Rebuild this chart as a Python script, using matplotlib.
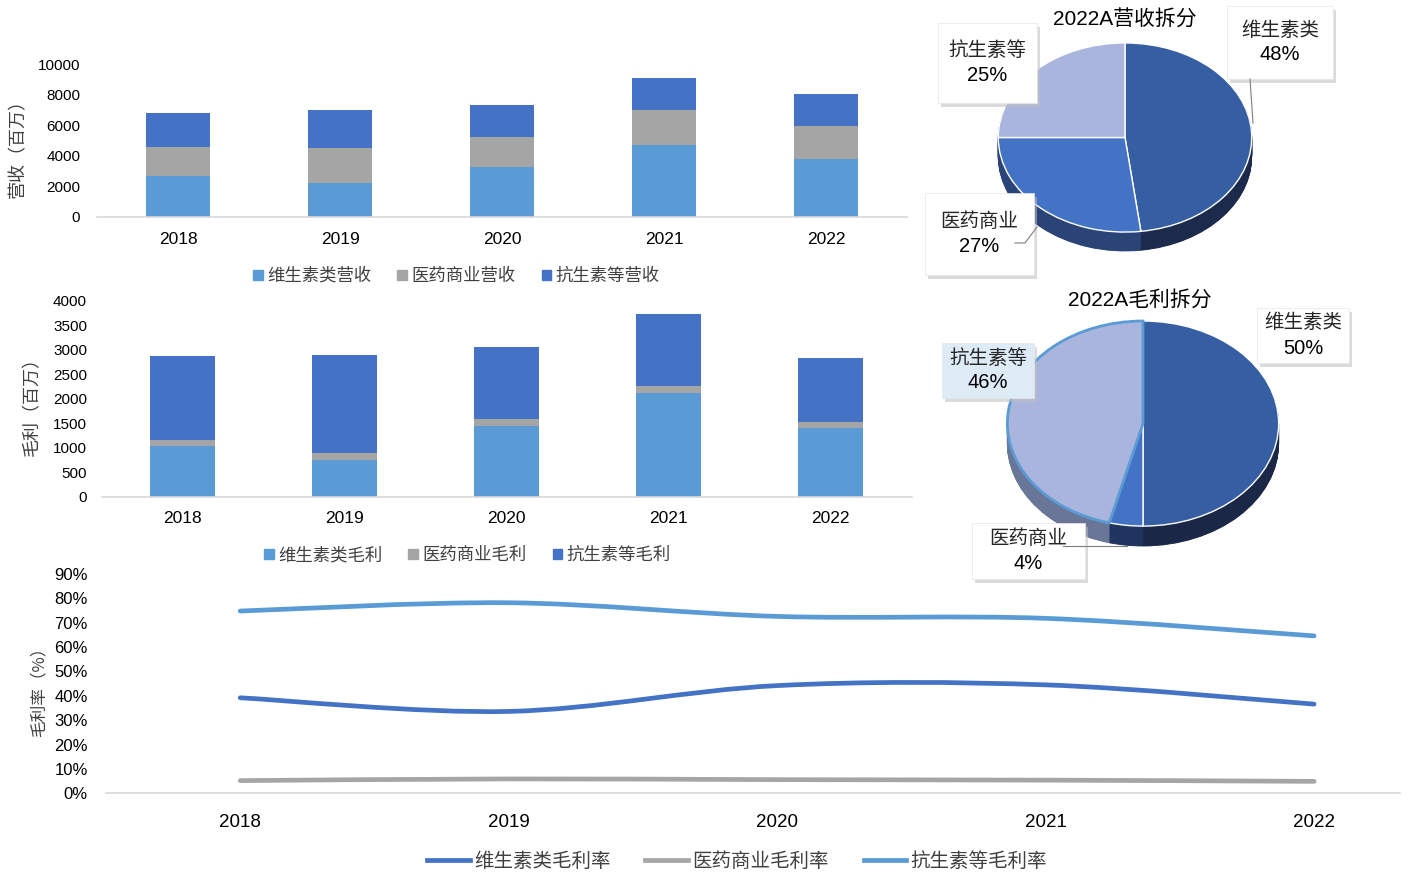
import numpy as np
import matplotlib
matplotlib.use('Agg')
import matplotlib.pyplot as plt
from matplotlib import font_manager
from matplotlib.patches import Patch, Rectangle, PathPatch
from matplotlib.lines import Line2D
from matplotlib.path import Path

plt.rcParams['font.family'] = ['Liberation Sans', 'Noto Sans CJK SC', 'DejaVu Sans']

installed = {f.name for f in font_manager.fontManager.ttflist}
NARROW = 'Liberation Sans Narrow' if 'Liberation Sans Narrow' in installed else 'Liberation Sans'
CJK = ['Noto Sans CJK SC', 'DejaVu Sans']

years = ['2018', '2019', '2020', '2021', '2022']

# 营收（百万）
rev_vitamin = [2646, 2227, 3235, 4695, 3798]
rev_pharma = [1900, 2252, 1984, 2293, 2161]
rev_anti = [2266, 2509, 2076, 2075, 2057]

# 毛利（百万）
gp_vitamin = [1035, 755, 1449, 2122, 1402]
gp_pharma = [128, 143, 131, 131, 116]
gp_anti = [1708, 1988, 1469, 1476, 1306]

# 毛利率（%）
gm_vitamin = [39.2, 33.6, 44.2, 44.5, 36.6]
gm_pharma = [5.2, 5.9, 5.6, 5.4, 4.9]
gm_anti = [74.8, 78.2, 72.6, 71.8, 64.6]

# 2022A 拆分（%）
pie_names = ['维生素类', '医药商业', '抗生素等']
pie_rev_share = [48, 27, 25]
pie_gp_share = [50, 4, 46]

C_LIGHT = '#5B9BD5'
C_GRAY = '#A5A5A5'
C_BLUE = '#4472C4'
AXIS_GRAY = '#D9D9D9'

W, H = 1408, 877
fig = plt.figure(figsize=(W / 100, H / 100), dpi=100)


def px_axes(left, top, right, bottom):
    # axes placed by pixel box (origin top-left)
    return fig.add_axes([left / W, 1 - bottom / H, (right - left) / W, (bottom - top) / H])


def style_axes(ax):
    for s in ['top', 'right', 'left']:
        ax.spines[s].set_visible(False)
    ax.spines['bottom'].set_color(AXIS_GRAY)
    ax.spines['bottom'].set_linewidth(1.2)
    ax.tick_params(length=0)


def stacked_bars(ax, series, colors):
    x = np.arange(len(years))
    bottom = np.zeros(len(years))
    for vals, c in zip(series, colors):
        ax.bar(x, vals, 0.4, bottom=bottom, color=c, linewidth=0)
        bottom += np.array(vals)
    ax.set_xlim(-0.5, 4.5)
    ax.set_xticks(x)
    ax.set_xticklabels(years)


# ---- 营收柱状图 ----
ax1 = px_axes(97, 64, 907, 216.7)
stacked_bars(ax1, [rev_vitamin, rev_pharma, rev_anti], [C_LIGHT, C_GRAY, C_BLUE])
ax1.set_ylim(0, 10000)
ax1.set_yticks(range(0, 10001, 2000))
style_axes(ax1)
ax1.tick_params(axis='y', labelsize=11, pad=12)
ax1.tick_params(axis='x', labelsize=12.5, pad=11)

fig.legend(handles=[Patch(color=C_LIGHT, label='维生素类营收'),
                    Patch(color=C_GRAY, label='医药商业营收'),
                    Patch(color=C_BLUE, label='抗生素等营收')],
           loc='center', bbox_to_anchor=(456.5 / W, 1 - 276 / H), ncol=3, frameon=False,
           prop={'family': CJK, 'size': 12.5}, handlelength=0.55, handleheight=0.55,
           handletextpad=0.25, columnspacing=1.5, labelcolor='#404040')

# ---- 毛利柱状图 ----
ax2 = px_axes(101.7, 300.7, 911.7, 496.7)
stacked_bars(ax2, [gp_vitamin, gp_pharma, gp_anti], [C_LIGHT, C_GRAY, C_BLUE])
ax2.set_ylim(0, 4000)
ax2.set_yticks(range(0, 4001, 500))
style_axes(ax2)
ax2.tick_params(axis='y', labelsize=11, pad=10.5)
ax2.tick_params(axis='x', labelsize=12.5, pad=10)

fig.legend(handles=[Patch(color=C_LIGHT, label='维生素类毛利'),
                    Patch(color=C_GRAY, label='医药商业毛利'),
                    Patch(color=C_BLUE, label='抗生素等毛利')],
           loc='center', bbox_to_anchor=(467.5 / W, 1 - 555 / H), ncol=3, frameon=False,
           prop={'family': CJK, 'size': 12.5}, handlelength=0.55, handleheight=0.55,
           handletextpad=0.25, columnspacing=1.5, labelcolor='#404040')


# ---- 毛利率折线图 ----
def smooth_path(xs, ys):
    # cubic bezier through every point, tangents from neighbouring points
    pts = list(zip(xs, ys))
    verts = [pts[0]]
    codes = [Path.MOVETO]
    n = len(pts)
    for i in range(n - 1):
        p0 = pts[max(i - 1, 0)]
        p1 = pts[i]
        p2 = pts[i + 1]
        p3 = pts[min(i + 2, n - 1)]
        c1 = (p1[0] + (p2[0] - p0[0]) / 6, p1[1] + (p2[1] - p0[1]) / 6)
        c2 = (p2[0] - (p3[0] - p1[0]) / 6, p2[1] - (p3[1] - p1[1]) / 6)
        verts += [c1, c2, p2]
        codes += [Path.CURVE4] * 3
    return Path(verts, codes)


ax3 = px_axes(106, 574, 1400, 793.3)
xs = np.arange(len(years))
for vals, c in [(gm_vitamin, C_BLUE), (gm_pharma, C_GRAY), (gm_anti, C_LIGHT)]:
    ax3.add_patch(PathPatch(smooth_path(xs, np.array(vals) / 100), fill=False,
                            edgecolor=c, linewidth=3.4, capstyle='round'))
ax3.set_xlim(-0.5, 4.32)
ax3.set_ylim(0, 0.9)
ax3.set_xticks(xs)
ax3.set_xticklabels(years, family=NARROW, fontsize=13.5)
ax3.set_yticks(np.arange(0, 0.91, 0.1))
ax3.set_yticklabels([f'{int(round(v * 100))}%' for v in np.arange(0, 0.91, 0.1)],
                    family=NARROW, fontsize=12)
style_axes(ax3)
ax3.tick_params(axis='y', pad=13)
ax3.tick_params(axis='x', pad=15)

fig.legend(handles=[Line2D([], [], color=C_BLUE, lw=3.4, label='维生素类毛利率'),
                    Line2D([], [], color=C_GRAY, lw=3.4, label='医药商业毛利率'),
                    Line2D([], [], color=C_LIGHT, lw=3.4, label='抗生素等毛利率')],
           loc='center', bbox_to_anchor=(737 / W, 1 - 861 / H), ncol=3, frameon=False,
           prop={'family': CJK, 'size': 14}, handlelength=2.2, handletextpad=0.2,
           columnspacing=1.8, labelcolor='#404040')


# ---- 2022A 饼图（立体） ----
def pie3d(ax, shares, top_colors, side_colors, depth, n_layers=30):
    for k in range(n_layers, 0, -1):
        ax.pie(shares, colors=side_colors, startangle=90, counterclock=False,
               center=(0, -depth * k / n_layers), wedgeprops=dict(linewidth=0.6))
        for w in ax.patches[-len(shares):]:
            w.set_edgecolor(w.get_facecolor())
    wedges, _ = ax.pie(shares, colors=top_colors, startangle=90, counterclock=False,
                       wedgeprops=dict(edgecolor='white', linewidth=1))
    ax.set_aspect('auto')
    ax.set_xlim(-1.01, 1.01)
    ax.set_ylim(-1 - depth, 1.01)
    return wedges


top_cols = ['#365FA3', C_BLUE, '#A9B5DD']

axp1 = px_axes(997, 42, 1253, 251)
pie3d(axp1, pie_rev_share, top_cols, ['#1C2A4C', '#2A4478', '#6F7FA3'], 19 / 95)

axp2 = px_axes(1006, 320, 1280, 546)
w2 = pie3d(axp2, pie_gp_share, top_cols, ['#1B2747', '#1F3560', '#6A7697'], 20 / 103)
w2[2].set_edgecolor(C_LIGHT)
w2[2].set_linewidth(2)

# ---- 标注层 ----
ov = fig.add_axes([0, 0, 1, 1])
ov.set_xlim(0, W)
ov.set_ylim(H, 0)
ov.axis('off')

# y-axis titles
for tx, ty, label, fs in [(18, 144, '营收（百万）', 13),
                          (32, 402, '毛利（百万）', 13),
                          (39, 688, '毛利率（%）', 12)]:
    ov.text(tx, ty, label, rotation=90, ha='center', va='center', fontsize=fs,
            family=CJK, color='#404040')

title_font = ['Liberation Sans', 'Noto Sans CJK SC']
ov.text(1124.5, 20, '2022A营收拆分', ha='center', va='center', fontsize=15, family=title_font)
ov.text(1139.5, 300, '2022A毛利拆分', ha='center', va='center', fontsize=15, family=title_font)

# leader lines
for xs_, ys_ in [([1250, 1253], [79, 123]),
                 ([1015, 1025, 1037], [243, 243, 227]),
                 ([1063, 1127], [546, 546])]:
    ov.plot(xs_, ys_, color='#7F7F7F', lw=0.8)

# (pie shares, slice index, box left, top, width, height, face)
boxes = [
    (pie_rev_share, 0, 1227, 6, 106, 73, 'white'),
    (pie_rev_share, 2, 938, 23, 99, 80, 'white'),
    (pie_rev_share, 1, 925, 193, 109, 82, 'white'),
    (pie_gp_share, 0, 1257, 308, 92, 55, 'white'),
    (pie_gp_share, 2, 942, 343, 92, 55, '#DDEBF7'),
    (pie_gp_share, 1, 972, 523, 113, 56, 'white'),
]
for shares, i, bx, by, bw, bh, fc in boxes:
    ov.add_patch(Rectangle((bx + 3, by + 4), bw, bh, fc='#BFBFBF', ec='none', alpha=0.55))
    ov.add_patch(Rectangle((bx, by), bw, bh, fc=fc, ec='#E6E6E6', lw=0.5))
    cx, cy = bx + bw / 2, by + bh / 2
    ov.text(cx, cy - 12.5, pie_names[i], ha='center', va='center', fontsize=14,
            family=CJK, color='#262626')
    ov.text(cx, cy + 12.5, f'{shares[i]}%', ha='center', va='center', fontsize=14.5,
            family='Liberation Sans', color='#000000')

fig.savefig('out.png', dpi=100)
